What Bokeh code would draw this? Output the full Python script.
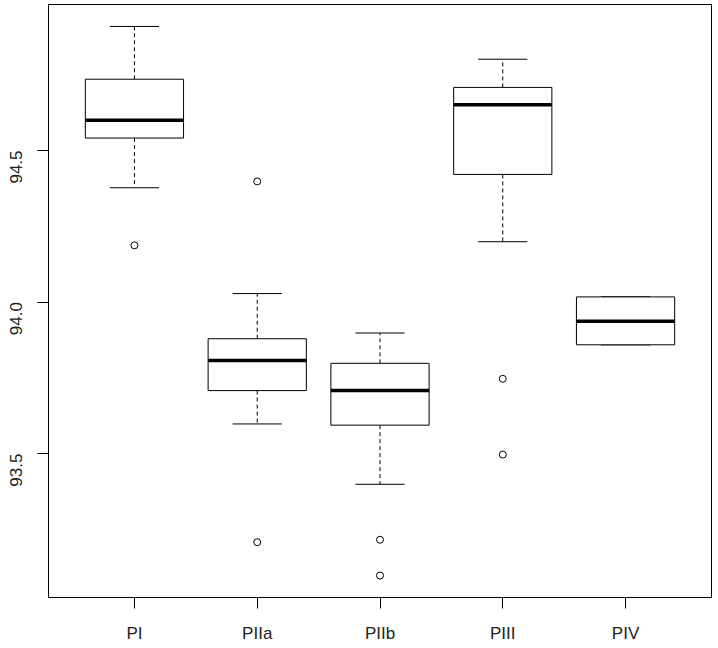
import math
from bokeh.plotting import figure
from bokeh.models import Range1d, FixedTicker, ColumnDataSource, NumeralTickFormatter
from bokeh.embed import file_html
from bokeh.resources import INLINE

categories = ["PI", "PIIa", "PIIb", "PIII", "PIV"]
whisker_low = [94.377, 93.598, 93.399, 94.199, 93.859]
q1 = [94.541, 93.708, 93.594, 94.421, 93.859]
median = [94.600, 93.807, 93.708, 94.651, 93.937]
q3 = [94.735, 93.879, 93.798, 94.708, 94.017]
whisker_high = [94.909, 94.028, 93.898, 94.801, 94.017]
outlier_group = ["PI", "PIIa", "PIIa", "PIIb", "PIIb", "PIII", "PIII"]
outlier_value = [94.187, 94.398, 93.208, 93.216, 93.098, 93.747, 93.497]
y_ticks = [93.5, 94.0, 94.5]

pos = list(range(1, len(categories) + 1))
box_w = 0.8
cap_w = 0.4

src = ColumnDataSource(dict(
    x=pos,
    left=[p - box_w / 2 for p in pos], right=[p + box_w / 2 for p in pos],
    cl=[p - cap_w / 2 for p in pos], cr=[p + cap_w / 2 for p in pos],
    lo=whisker_low, q1=q1, med=median, q3=q3, hi=whisker_high,
))
out_src = ColumnDataSource(dict(
    x=[categories.index(g) + 1 for g in outlier_group], y=outlier_value))

all_vals = whisker_low + whisker_high + outlier_value
lo_v, hi_v = min(all_vals), max(all_vals)
pad = 0.04 * (hi_v - lo_v)

n = len(categories)

p = figure(frame_width=663, frame_height=593,
           min_border_left=48, min_border_bottom=44, min_border_top=4, min_border_right=3,
           x_range=Range1d(0.5 - 0.04 * n, n + 0.5 + 0.04 * n),
           y_range=Range1d(lo_v - pad, hi_v + pad),
           output_backend="svg", toolbar_location=None)

p.xgrid.visible = False
p.ygrid.visible = False
p.outline_line_color = "black"
p.outline_line_width = 1
p.background_fill_color = "white"
p.border_fill_color = "white"

# whiskers
p.segment(x0="x", y0="q3", x1="x", y1="hi", source=src, line_color="black", line_width=1, line_dash="4 3")
p.segment(x0="x", y0="q1", x1="x", y1="lo", source=src, line_color="black", line_width=1, line_dash="4 3")
# caps
p.segment(x0="cl", y0="hi", x1="cr", y1="hi", source=src, line_color="black", line_width=1)
p.segment(x0="cl", y0="lo", x1="cr", y1="lo", source=src, line_color="black", line_width=1)
# boxes
p.quad(left="left", right="right", bottom="q1", top="q3", source=src,
       fill_color="white", line_color="black", line_width=1)
# medians
p.segment(x0="left", y0="med", x1="right", y1="med", source=src, line_color="black", line_width=3.5)
# outliers
p.scatter(x="x", y="y", source=out_src, marker="circle", size=7,
          fill_color=None, line_color="black", line_width=1)

font = "Liberation Sans"
p.xaxis.ticker = FixedTicker(ticks=pos)
p.xaxis.major_label_overrides = {i + 1: c for i, c in enumerate(categories)}
p.yaxis.ticker = FixedTicker(ticks=y_ticks)
p.yaxis.formatter = NumeralTickFormatter(format="0.0")
p.yaxis.major_label_orientation = math.pi / 2

for ax in (p.xaxis[0], p.yaxis[0]):
    ax.axis_line_color = None
    ax.major_tick_in = 0
    ax.major_tick_out = 11
    ax.major_tick_line_color = "black"
    ax.minor_tick_line_color = None
    ax.major_label_text_font = font
    ax.major_label_text_font_size = "17px"
    ax.major_label_text_color = "#222222"
p.xaxis.major_label_standoff = 15
p.yaxis.major_label_standoff = 21

open("out.html", "w").write(file_html(p, INLINE))
